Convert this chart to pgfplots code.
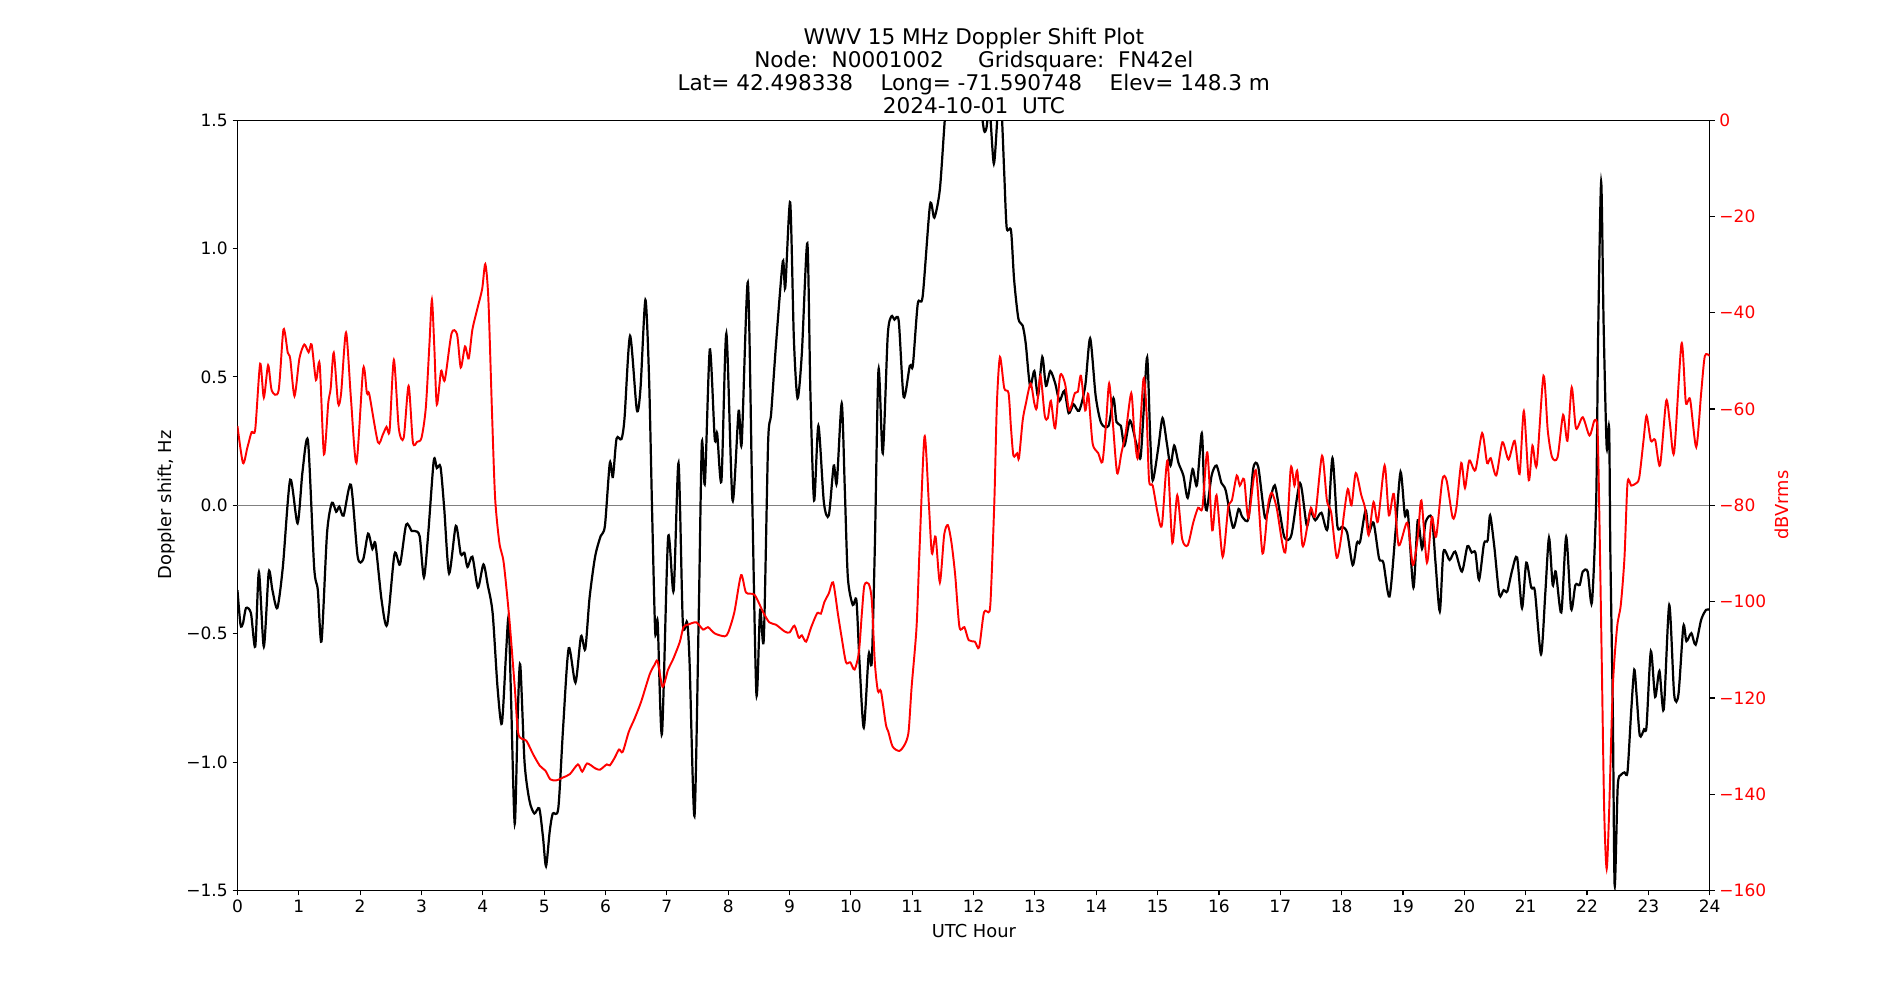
\documentclass[border=0pt]{standalone}
\usepackage{fontspec}
\setmainfont{DejaVu Sans}
\usepackage{pgfplots}
\pgfplotsset{compat=1.18}
\begin{document}
\begin{tikzpicture}
\path[use as bounding box] (0,0) rectangle (1373.1pt,722.7pt);
\pgfplotsset{
  common/.style={
    at={(171.6pt,79.1pt)}, anchor=south west,
    scale only axis, width=1064pt, height=556.8pt,
    xmin=0, xmax=24,
    tick align=outside, major tick length=3.5pt,
    major tick style={line width=0.8pt, black},
    axis line style={line width=0.8pt},
    tick label style={font=\fontsize{12.3}{14}\selectfont},
    clip=true,
  }
}
\begin{axis}[common,
  ymin=-1.5, ymax=1.5,
  xtick={0,1,2,3,4,5,6,7,8,9,10,11,12,13,14,15,16,17,18,19,20,21,22,23,24},
  xticklabels={0,1,2,3,4,5,6,7,8,9,10,11,12,13,14,15,16,17,18,19,20,21,22,23,24},
  ytick={-1.5,-1,-0.5,0,0.5,1,1.5},
  yticklabels={−1.5,−1.0,−0.5,0.0,0.5,1.0,1.5},
  xtick pos=bottom, ytick pos=left,
]
\addplot[gray, line width=0.7pt] coordinates {(0,0) (24,0)};
\addplot[black, line width=1.6pt, smooth, tension=0.45] coordinates {
(0.00,-0.33)(0.05,-0.465)(0.09,-0.46)(0.14,-0.40)(0.22,-0.42)(0.29,-0.55)(0.35,-0.26)(0.43,-0.55)(0.51,-0.26)(0.57,-0.33)(0.65,-0.40)(0.74,-0.24)(0.86,0.10)(0.98,-0.07)(1.06,0.13)(1.15,0.25)(1.25,-0.24)(1.31,-0.33)(1.37,-0.53)(1.46,-0.11)(1.54,0.01)(1.61,-0.025)(1.66,-0.005)(1.73,-0.04)(1.85,0.08)(1.96,-0.20)(2.05,-0.21)(2.13,-0.11)(2.20,-0.17)(2.25,-0.15)(2.35,-0.37)(2.44,-0.465)(2.56,-0.19)(2.65,-0.23)(2.75,-0.075)(2.84,-0.10)(2.89,-0.10)(2.97,-0.12)(3.04,-0.28)(3.11,-0.11)(3.20,0.174)(3.25,0.145)(3.31,0.15)(3.37,-0.01)(3.45,-0.265)(3.56,-0.08)(3.64,-0.19)(3.70,-0.185)(3.75,-0.24)(3.83,-0.20)(3.92,-0.32)(4.01,-0.23)(4.08,-0.31)(4.16,-0.42)(4.24,-0.71)(4.31,-0.85)(4.38,-0.57)(4.42,-0.44)(4.46,-0.75)(4.52,-1.24)(4.57,-0.81)(4.61,-0.62)(4.68,-1.00)(4.76,-1.15)(4.84,-1.20)(4.92,-1.18)(4.98,-1.29)(5.03,-1.405)(5.09,-1.27)(5.14,-1.20)(5.23,-1.18)(5.31,-0.86)(5.40,-0.556)(5.51,-0.69)(5.60,-0.51)(5.67,-0.56)(5.74,-0.36)(5.83,-0.20)(5.92,-0.12)(5.99,-0.08)(6.07,0.165)(6.12,0.11)(6.18,0.26)(6.26,0.258)(6.31,0.34)(6.40,0.66)(6.51,0.372)(6.57,0.455)(6.65,0.80)(6.71,0.494)(6.76,-0.03)(6.81,-0.494)(6.85,-0.455)(6.92,-0.89)(7.02,-0.126)(7.11,-0.333)(7.19,0.165)(7.26,-0.455)(7.33,-0.455)(7.37,-0.61)(7.45,-1.21)(7.52,-0.42)(7.57,0.242)(7.62,0.087)(7.70,0.607)(7.78,0.26)(7.82,0.28)(7.89,0.097)(7.97,0.669)(8.07,0.02)(8.17,0.368)(8.22,0.242)(8.32,0.868)(8.39,0.048)(8.46,-0.736)(8.52,-0.407)(8.58,-0.52)(8.65,0.242)(8.70,0.358)(8.78,0.63)(8.89,0.95)(8.93,0.847)(9.01,1.18)(9.07,0.65)(9.13,0.417)(9.20,0.59)(9.29,1.02)(9.34,0.436)(9.40,0.019)(9.47,0.31)(9.56,0.01)(9.64,-0.039)(9.72,0.155)(9.77,0.087)(9.85,0.397)(9.90,0.068)(9.95,-0.28)(10.03,-0.388)(10.09,-0.37)(10.14,-0.61)(10.21,-0.866)(10.29,-0.58)(10.34,-0.61)(10.39,-0.165)(10.45,0.529)(10.52,0.203)(10.60,0.66)(10.66,0.736)(10.71,0.723)(10.78,0.717)(10.86,0.422)(10.96,0.543)(11.01,0.545)(11.09,0.785)(11.17,0.814)(11.29,1.17)(11.36,1.12)(11.45,1.23)(11.53,1.50)(11.6,1.7)(11.8,1.75)(12.0,1.7)(12.1,1.58)(12.17,1.46)(12.21,1.47)(12.26,1.55)(12.33,1.33)(12.39,1.52)(12.42,1.6)(12.46,1.52)(12.50,1.29)(12.54,1.08)(12.61,1.07)(12.66,0.88)(12.73,0.727)(12.80,0.70)(12.85,0.63)(12.92,0.465)(12.99,0.523)(13.05,0.426)(13.12,0.578)(13.18,0.465)(13.25,0.523)(13.33,0.475)(13.40,0.407)(13.48,0.446)(13.55,0.359)(13.63,0.393)(13.72,0.368)(13.82,0.465)(13.90,0.65)(13.99,0.426)(14.08,0.32)(14.20,0.31)(14.28,0.417)(14.33,0.324)(14.40,0.31)(14.46,0.233)(14.55,0.33)(14.65,0.242)(14.72,0.184)(14.77,0.359)(14.83,0.576)(14.88,0.26)(14.92,0.097)(15.01,0.223)(15.08,0.34)(15.15,0.242)(15.21,0.155)(15.27,0.233)(15.34,0.165)(15.42,0.116)(15.49,0.029)(15.57,0.141)(15.64,0.078)(15.72,0.281)(15.76,0.048)(15.80,-0.019)(15.88,0.116)(15.96,0.155)(16.04,0.087)(16.11,0.058)(16.23,-0.087)(16.32,-0.014)(16.38,-0.045)(16.48,-0.052)(16.56,0.145)(16.64,0.15)(16.75,-0.048)(16.83,0.019)(16.91,0.078)(16.99,-0.025)(17.07,-0.126)(17.18,-0.116)(17.32,0.087)(17.43,-0.078)(17.49,-0.023)(17.57,-0.058)(17.67,-0.029)(17.77,-0.091)(17.85,0.184)(17.93,-0.08)(18.01,-0.083)(18.09,-0.107)(18.18,-0.233)(18.25,-0.145)(18.30,-0.142)(18.39,-0.019)(18.44,-0.107)(18.52,-0.068)(18.61,-0.207)(18.68,-0.223)(18.78,-0.355)(18.88,-0.097)(18.96,0.13)(19.03,-0.039)(19.08,-0.03)(19.17,-0.32)(19.24,-0.058)(19.31,-0.169)(19.37,-0.064)(19.47,-0.048)(19.53,-0.223)(19.60,-0.413)(19.66,-0.18)(19.76,-0.213)(19.85,-0.18)(19.96,-0.258)(20.05,-0.159)(20.12,-0.184)(20.18,-0.184)(20.24,-0.29)(20.32,-0.149)(20.38,-0.136)(20.42,-0.039)(20.49,-0.165)(20.57,-0.349)(20.64,-0.33)(20.70,-0.335)(20.78,-0.252)(20.86,-0.203)(20.94,-0.40)(21.01,-0.223)(21.09,-0.32)(21.15,-0.335)(21.25,-0.58)(21.32,-0.34)(21.38,-0.126)(21.44,-0.31)(21.49,-0.258)(21.58,-0.417)(21.66,-0.122)(21.74,-0.403)(21.81,-0.31)(21.88,-0.31)(21.93,-0.258)(22.01,-0.258)(22.08,-0.378)(22.15,0.029)(22.18,0.65)(22.23,1.26)(22.27,0.707)(22.32,0.227)(22.36,0.30)(22.38,-0.184)(22.42,-0.80)(22.45,-1.48)(22.50,-1.095)(22.55,-1.05)(22.61,-1.04)(22.66,-1.037)(22.72,-0.80)(22.77,-0.64)(22.81,-0.746)(22.86,-0.897)(22.93,-0.872)(22.97,-0.86)(23.04,-0.568)(23.11,-0.746)(23.18,-0.645)(23.25,-0.795)(23.34,-0.388)(23.42,-0.736)(23.49,-0.736)(23.57,-0.471)(23.62,-0.529)(23.70,-0.498)(23.77,-0.543)(23.86,-0.446)(23.94,-0.407)(24.00,-0.407)
};
\end{axis}
\begin{axis}[common,
  ymin=-160, ymax=0,
  axis x line=none, axis y line*=right,
  ytick={-160,-140,-120,-100,-80,-60,-40,-20,0},
  yticklabels={−160,−140,−120,−100,−80,−60,−40,−20,0},
  yticklabel style={red},
]
\addplot[red, line width=1.4pt, smooth, tension=0.45] coordinates {
(0.00,-63.5)(0.09,-71.2)(0.16,-68.1)(0.23,-64.8)(0.29,-64.2)(0.37,-50.6)(0.43,-57.6)(0.50,-50.9)(0.56,-56.2)(0.67,-56.2)(0.75,-43.5)(0.82,-48.3)(0.86,-49.5)(0.93,-57.3)(1.01,-49.5)(1.09,-46.6)(1.16,-48.2)(1.21,-46.6)(1.28,-54.0)(1.34,-50.6)(1.41,-69.4)(1.48,-58.8)(1.52,-55.7)(1.57,-48.3)(1.64,-58.8)(1.69,-56.7)(1.77,-44.1)(1.85,-57.8)(1.94,-71.2)(2.05,-51.6)(2.11,-56.7)(2.15,-57.0)(2.29,-66.9)(2.37,-65.3)(2.43,-63.7)(2.48,-64.5)(2.55,-49.8)(2.63,-64.0)(2.71,-66.0)(2.79,-55.2)(2.86,-66.9)(2.93,-66.8)(3.00,-66.0)(3.07,-59.8)(3.13,-46.4)(3.17,-37.3)(3.21,-47.4)(3.25,-59.1)(3.32,-52.1)(3.38,-54.0)(3.49,-44.3)(3.58,-44.5)(3.64,-51.4)(3.71,-47.0)(3.77,-49.5)(3.83,-43.5)(3.92,-38.7)(3.99,-35.0)(4.04,-29.9)(4.09,-37.1)(4.15,-60.9)(4.20,-78.4)(4.27,-87.8)(4.34,-91.9)(4.43,-103.3)(4.52,-117.7)(4.58,-127.5)(4.71,-128.9)(4.82,-131.7)(4.93,-134.1)(5.02,-135.1)(5.10,-136.9)(5.20,-137.1)(5.31,-136.5)(5.42,-135.8)(5.55,-133.8)(5.62,-135.3)(5.70,-133.6)(5.83,-134.6)(5.91,-134.9)(6.02,-133.8)(6.07,-134.0)(6.15,-132.4)(6.22,-130.7)(6.28,-131.2)(6.38,-127.0)(6.47,-124.4)(6.58,-120.8)(6.72,-115.1)(6.80,-113.1)(6.85,-112.4)(6.93,-117.7)(7.02,-114.1)(7.10,-112.0)(7.21,-108.4)(7.27,-105.3)(7.34,-104.8)(7.48,-104.3)(7.59,-105.8)(7.67,-105.3)(7.78,-106.6)(7.94,-107.2)(8.00,-106.4)(8.10,-102.2)(8.21,-94.5)(8.29,-98.1)(8.43,-98.6)(8.57,-102.2)(8.67,-104.3)(8.78,-104.8)(8.92,-106.2)(9.00,-106.4)(9.08,-105.0)(9.15,-107.5)(9.20,-107.0)(9.27,-108.3)(9.35,-105.4)(9.45,-102.4)(9.51,-102.5)(9.57,-100.0)(9.64,-98.3)(9.71,-96.0)(9.79,-102.7)(9.85,-107.5)(9.92,-112.6)(9.99,-112.6)(10.06,-114.1)(10.13,-110.5)(10.18,-102.2)(10.22,-96.6)(10.29,-96.3)(10.34,-99.7)(10.39,-112.6)(10.44,-118.6)(10.49,-118.6)(10.57,-125.5)(10.61,-127.0)(10.68,-130.1)(10.79,-131.0)(10.88,-129.6)(10.94,-127.0)(10.99,-117.7)(11.07,-105.3)(11.12,-88.8)(11.20,-65.7)(11.27,-79.5)(11.32,-90.0)(11.38,-86.5)(11.45,-96.0)(11.52,-86.2)(11.58,-84.1)(11.64,-87.8)(11.70,-94.5)(11.77,-105.3)(11.85,-105.3)(11.92,-108.0)(12.02,-108.3)(12.09,-109.5)(12.17,-102.2)(12.26,-102.0)(12.29,-96.0)(12.34,-78.5)(12.38,-58.8)(12.43,-49.2)(12.50,-55.7)(12.57,-56.7)(12.61,-64.0)(12.65,-69.7)(12.71,-69.2)(12.74,-70.2)(12.80,-62.4)(12.85,-59.0)(12.93,-54.7)(12.99,-58.8)(13.03,-59.8)(13.09,-53.1)(13.16,-61.4)(13.21,-61.9)(13.26,-58.3)(13.33,-64.0)(13.41,-53.1)(13.49,-54.7)(13.56,-60.3)(13.65,-56.7)(13.70,-56.4)(13.75,-53.1)(13.82,-60.3)(13.87,-56.9)(13.94,-67.1)(14.03,-69.1)(14.10,-71.0)(14.16,-62.9)(14.21,-54.7)(14.27,-62.9)(14.34,-73.3)(14.41,-69.1)(14.48,-64.9)(14.57,-56.7)(14.62,-64.9)(14.68,-70.0)(14.77,-53.7)(14.82,-60.9)(14.86,-74.8)(14.92,-75.9)(15.00,-81.6)(15.07,-84.1)(15.16,-70.7)(15.24,-87.8)(15.32,-77.9)(15.40,-87.0)(15.49,-88.3)(15.58,-83.6)(15.66,-80.5)(15.73,-80.5)(15.81,-69.0)(15.89,-85.2)(15.96,-77.9)(16.06,-90.7)(16.15,-80.5)(16.21,-79.0)(16.29,-73.8)(16.34,-75.9)(16.41,-74.6)(16.48,-82.6)(16.60,-72.7)(16.71,-90.0)(16.80,-80.0)(16.86,-77.4)(16.94,-80.5)(17.08,-89.8)(17.17,-72.3)(17.23,-75.9)(17.28,-73.1)(17.36,-88.3)(17.45,-83.6)(17.50,-80.5)(17.57,-82.1)(17.68,-69.7)(17.76,-79.0)(17.83,-81.6)(17.92,-90.9)(18.00,-86.0)(18.03,-82.6)(18.10,-76.6)(18.16,-80.0)(18.23,-73.3)(18.32,-77.9)(18.38,-80.5)(18.44,-86.2)(18.52,-79.3)(18.59,-83.4)(18.70,-71.7)(18.77,-82.1)(18.85,-77.6)(18.93,-88.3)(19.07,-83.6)(19.16,-92.4)(19.24,-86.7)(19.30,-79.0)(19.39,-91.9)(19.47,-82.4)(19.54,-86.5)(19.64,-74.8)(19.71,-74.8)(19.81,-82.6)(19.87,-80.5)(19.95,-71.2)(20.01,-76.4)(20.08,-70.7)(20.18,-72.7)(20.29,-65.0)(20.37,-71.2)(20.43,-70.2)(20.52,-73.8)(20.62,-66.9)(20.72,-70.5)(20.82,-66.6)(20.90,-73.5)(20.97,-60.4)(21.05,-74.8)(21.11,-67.6)(21.18,-71.7)(21.29,-53.1)(21.36,-64.5)(21.43,-70.0)(21.52,-70.0)(21.61,-61.2)(21.68,-66.6)(21.75,-55.5)(21.82,-64.0)(21.93,-61.7)(22.04,-65.5)(22.12,-62.4)(22.17,-64.0)(22.20,-81.6)(22.24,-112.6)(22.28,-143.6)(22.32,-155.5)(22.36,-143.6)(22.42,-117.7)(22.49,-105.3)(22.55,-100.7)(22.61,-90.9)(22.66,-75.3)(22.72,-75.9)(22.79,-75.5)(22.85,-74.3)(22.92,-66.6)(22.97,-61.4)(23.04,-66.6)(23.11,-66.4)(23.19,-71.7)(23.29,-58.3)(23.35,-62.9)(23.42,-69.0)(23.54,-46.4)(23.61,-58.6)(23.68,-58.0)(23.78,-67.9)(23.86,-56.7)(23.92,-49.0)(24.00,-49.0)
};
\end{axis}
\node[align=center, anchor=south, inner sep=0pt, font=\fontsize{15.6}{16.4}\selectfont] at (703.8pt,640.6pt)
  {WWV 15 MHz Doppler Shift Plot\\Node:\ \ N0001002\ \ \ \ \ Gridsquare:\ \ FN42el\\Lat= 42.498338\ \ \ \ Long= -71.590748\ \ \ \ Elev= 148.3 m\\2024-10-01\ \ UTC};
\node[font=\fontsize{12.9}{15}\selectfont, inner sep=0pt] at (703.8pt,49.9pt) {UTC Hour};
\node[font=\fontsize{12.9}{15}\selectfont, inner sep=0pt, rotate=90] at (120.7pt,357.7pt) {Doppler shift, Hz};
\node[font=\fontsize{12.9}{15}\selectfont, inner sep=0pt, rotate=90, red] at (1287.8pt,357.7pt) {dBVrms};
\end{tikzpicture}
\end{document}
